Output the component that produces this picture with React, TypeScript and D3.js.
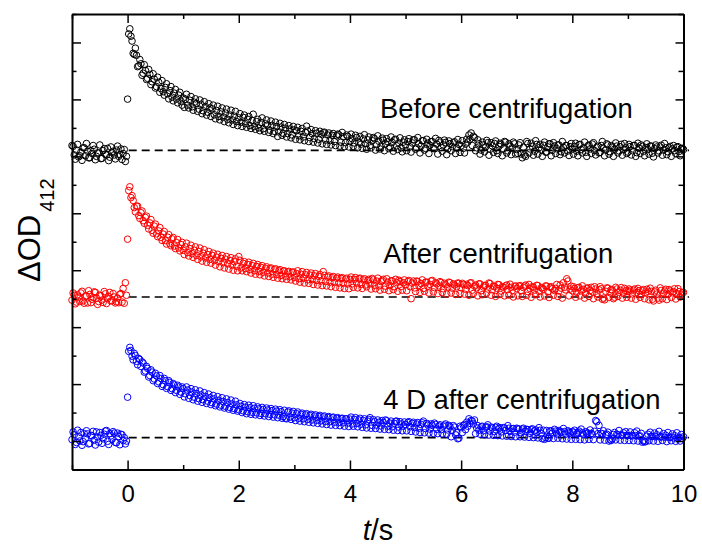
import React, { useEffect, useRef } from 'react';
import * as d3 from 'd3';

// sampling: one point every 0.04 s from t = -1 s, plus the in-between
// samples (t = -0.98 s, -0.94 s, ...) kept in the *Mid arrays
const tStart = -1;
const tStep = 0.04;

// plotted values (arbitrary units, curves stacked as in the figure)
const beforeValues = [
  11.38, 11.05, 11.22, 10.98, 11.15, 11.30, 11.02, 11.18, 10.95, 11.10, 11.25, 11.00, 11.12, 10.92, 11.20, 11.08, 11.28, 10.97, 11.14, 11.05, 11.22, 11.00, 11.26, 11.10, 10.82,
  13.01,
  15.48, 15.05, 14.58, 14.55, 14.18, 14.25, 13.92, 14.02, 13.74, 13.88, 13.62, 13.71, 13.45, 13.60, 13.38, 13.27, 13.42, 13.20, 13.31, 13.08, 13.22, 13.01, 13.15, 12.94, 13.05,
  13.01, 12.80, 12.97, 12.74, 12.90, 12.86, 12.66, 12.83, 12.60, 12.75, 12.55, 12.70, 12.67, 12.46, 12.61, 12.40, 12.56, 12.38, 12.52, 12.30, 12.45, 12.28, 12.41, 12.22, 12.35,
  12.20, 12.37, 12.15, 12.30, 12.08, 12.26, 12.05, 12.22, 12.00, 12.19, 11.97, 12.14, 12.10, 11.92, 12.09, 11.88, 12.05, 11.86, 12.03, 11.81, 11.99, 11.80, 11.96, 11.75, 11.93,
  11.90, 11.72, 11.88, 11.68, 11.84, 11.89, 11.66, 11.80, 11.62, 11.81, 11.60, 11.78, 11.83, 11.57, 11.75, 11.55, 11.74, 11.52, 11.72, 11.76, 11.50, 11.69, 11.48, 11.70, 11.52,
  11.62, 11.47, 11.66, 11.50, 11.43, 11.61, 11.45, 11.58, 11.38, 11.55, 11.62, 11.41, 11.53, 11.36, 11.57, 11.44, 11.51, 11.33, 11.49, 11.58, 11.37, 11.47, 11.30, 11.50, 11.40,
  11.52, 11.33, 11.47, 11.58, 11.30, 11.44, 11.36, 11.55, 11.28, 11.46, 11.39, 11.52, 11.27, 11.43, 11.56, 11.31, 11.40, 11.49, 11.26, 11.45, 11.34, 11.51, 11.29, 11.42, 11.37,
  11.28, 11.43, 11.50, 11.60, 11.38, 11.66, 11.30, 11.44, 11.22, 11.40, 11.33, 11.48, 11.25, 11.37, 11.45, 11.20, 11.35, 11.42, 11.27, 11.50, 11.19, 11.36, 11.30, 11.44, 11.24,
  11.40, 11.08, 11.32, 11.00, 11.45, 11.26, 11.35, 11.18, 11.42, 11.30, 11.22, 11.39, 11.15, 11.33, 11.44, 11.21, 11.36, 11.27, 11.40, 11.16, 11.31, 11.38, 11.19, 11.34, 11.25,
  11.35, 11.18, 11.41, 11.24, 11.30, 11.14, 11.37, 11.26, 11.43, 11.20, 11.32, 11.12, 11.38, 11.28, 11.22, 11.40, 11.16, 11.33, 11.25, 11.36, 11.19, 11.42, 11.23, 11.30, 11.15,
  11.34, 11.20, 11.38, 11.13, 11.29, 11.40, 11.18, 11.31, 11.24, 11.36, 11.11, 11.27, 11.33, 11.19, 11.39, 11.22, 11.30, 11.16, 11.35, 11.26, 11.20, 11.32, 11.17, 11.28, 11.24,
];
const beforeValuesMid = [
  11.35, 10.90, 11.42, 11.02, 10.86, 11.30, 11.45, 10.95, 11.20, 11.38, 10.88, 11.12, 11.40, 10.93, 11.27, 11.05, 10.85, 11.33, 11.18, 10.91, 11.36, 11.06, 10.89, 11.24, 11.00,
  15.30, 15.22, 14.62, 14.80, 14.15, 14.40, 13.85, 14.22, 13.70, 14.05, 13.52, 13.90, 13.40, 13.78, 13.25, 13.66, 13.15, 13.55, 13.02, 13.45, 12.95, 13.35, 12.88, 13.25, 12.80,
  12.72, 13.18, 12.70, 13.10, 12.62, 13.02, 12.58, 12.98, 12.50, 12.92, 12.45, 12.85, 12.40, 12.80, 12.32, 12.76, 12.28, 12.70, 12.22, 12.66, 12.18, 12.62, 12.12, 12.58, 12.08,
  12.50, 12.05, 12.45, 12.02, 12.40, 11.98, 12.48, 11.95, 12.30, 11.90, 12.35, 11.88, 12.28, 11.84, 12.24, 11.80, 12.20, 11.70, 12.16, 11.74, 12.12, 11.68, 12.08, 11.65, 12.05,
  11.60, 12.02, 11.58, 11.98, 11.55, 12.06, 11.52, 11.94, 11.50, 11.90, 11.47, 11.88, 11.44, 11.85, 11.42, 11.82, 11.40, 11.80, 11.38, 11.78, 11.36, 11.84, 11.34, 11.75, 11.33,
  11.78, 11.35, 11.74, 11.30, 11.70, 11.28, 11.76, 11.25, 11.68, 11.30, 11.66, 11.22, 11.72, 11.26, 11.64, 11.20, 11.62, 11.27, 11.68, 11.18, 11.60, 11.24, 11.65, 11.16, 11.58,
  11.20, 11.62, 11.15, 11.58, 11.25, 11.66, 11.12, 11.55, 11.22, 11.60, 11.10, 11.52, 11.28, 11.63, 11.08, 11.50, 11.18, 11.57, 11.06, 11.54, 11.20, 11.48, 11.10, 11.59, 11.14,
  11.55, 11.12, 11.60, 11.75, 11.82, 11.70, 11.20, 11.58, 11.08, 11.50, 11.16, 11.56, 11.04, 11.48, 11.14, 11.54, 11.10, 11.46, 11.02, 11.52, 11.12, 11.44, 11.06, 11.50, 11.08,
  11.10, 11.48, 10.95, 11.05, 11.52, 11.12, 11.46, 11.04, 11.55, 11.08, 11.42, 11.00, 11.50, 11.15, 11.44, 11.02, 11.48, 11.10, 11.40, 11.06, 11.52, 11.12, 11.38, 11.03, 11.45,
  11.08, 11.46, 11.02, 11.42, 11.12, 11.50, 11.00, 11.40, 11.10, 11.48, 11.05, 11.36, 11.14, 11.52, 11.02, 11.44, 11.08, 11.38, 11.00, 11.47, 11.12, 11.34, 11.04, 11.45, 11.10,
  11.42, 11.05, 11.38, 11.00, 11.46, 11.10, 11.35, 11.02, 11.44, 11.08, 11.36, 10.98, 11.40, 11.12, 11.33, 11.04, 11.45, 11.06, 11.30, 11.00, 11.38, 11.10, 11.34, 11.02, 11.28,
];

const afterValues = [
  5.95, 6.12, 5.88, 6.05, 6.20, 5.92, 6.08, 5.85, 6.15, 5.98, 6.24, 6.02, 5.90, 6.10, 5.87, 6.17, 6.00, 6.22, 5.93, 6.06, 5.89, 5.86, 6.18, 6.36, 6.56,
  8.09,
  9.93, 9.62, 9.20, 9.25, 8.92, 9.02, 8.74, 8.85, 8.58, 8.66, 8.40, 8.55, 8.28, 8.38, 8.15, 8.27, 8.04, 8.16, 7.93, 8.10, 7.85, 7.97, 7.78, 7.90, 7.70,
  7.82, 7.62, 7.76, 7.58, 7.70, 7.52, 7.66, 7.47, 7.60, 7.43, 7.55, 7.38, 7.52, 7.34, 7.46, 7.30, 7.42, 7.26, 7.39, 7.22, 7.34, 7.18, 7.30, 7.14, 7.48,
  7.08, 7.24, 7.06, 7.20, 7.02, 7.16, 6.98, 7.13, 6.96, 7.10, 6.93, 7.07, 6.90, 7.05, 6.86, 7.02, 6.85, 6.98, 6.82, 6.97, 6.79, 6.94, 6.77, 6.92, 6.75,
  6.88, 6.70, 6.86, 6.72, 6.84, 6.66, 6.83, 6.67, 6.80, 6.64, 6.78, 6.62, 6.95, 6.60, 6.76, 6.58, 6.74, 6.57, 6.72, 6.55, 6.71, 6.54, 6.69, 6.52, 6.68,
  6.52, 6.68, 6.55, 6.70, 6.50, 6.66, 6.48, 6.64, 6.52, 6.71, 6.47, 6.62, 6.45, 6.60, 6.68, 6.44, 6.58, 6.46, 6.63, 6.42, 6.57, 6.65, 6.43, 6.56, 6.49,
  6.60, 6.42, 6.55, 6.38, 6.62, 6.47, 6.53, 6.36, 6.58, 6.44, 6.50, 6.64, 6.39, 6.52, 6.45, 6.57, 6.35, 6.49, 6.41, 6.56, 6.37, 6.48, 6.42, 6.54, 6.38,
  6.50, 6.33, 6.46, 6.55, 6.30, 6.44, 6.38, 6.52, 6.28, 6.41, 6.47, 6.34, 6.53, 6.31, 6.43, 6.37, 6.49, 6.27, 6.40, 6.45, 6.32, 6.51, 6.29, 6.42, 6.36,
  6.44, 6.28, 6.39, 6.48, 6.25, 6.36, 6.42, 6.30, 6.47, 6.26, 6.38, 6.33, 6.45, 6.24, 6.40, 6.35, 6.29, 6.50, 6.27, 6.37, 6.56, 6.31, 6.62, 6.34, 6.28,
  6.36, 6.22, 6.40, 6.27, 6.33, 6.20, 6.38, 6.29, 6.24, 6.42, 6.18, 6.31, 6.35, 6.02, 6.26, 6.37, 6.21, 6.30, 6.05, 6.34, 6.23, 6.39, 6.19, 6.28, 6.25,
  6.30, 6.17, 6.34, 6.22, 6.28, 6.14, 6.32, 6.20, 6.26, 6.37, 5.98, 6.24, 6.16, 5.95, 6.29, 6.19, 6.33, 6.15, 6.27, 6.21, 6.35, 6.18, 6.25, 6.13, 6.22,
];
const afterValuesMid = [
  6.20, 5.82, 6.14, 5.90, 6.26, 5.84, 6.10, 6.28, 5.86, 6.04, 6.22, 5.80, 6.12, 5.95, 6.25, 5.83, 6.08, 5.92, 6.18, 5.85, 6.02, 6.15, 5.88, 5.84, 6.12,
  9.80, 9.55, 9.45, 9.05, 9.25, 8.82, 9.08, 8.65, 8.90, 8.45, 8.78, 8.30, 8.62, 8.18, 8.50, 8.05, 8.36, 7.92, 8.25, 7.86, 8.15, 7.76, 8.08, 7.68, 7.98,
  7.55, 7.95, 7.50, 7.88, 7.45, 7.82, 7.38, 7.78, 7.32, 7.72, 7.28, 7.66, 7.25, 7.60, 7.18, 7.56, 7.12, 7.52, 7.08, 7.48, 7.04, 7.44, 7.00, 7.40, 6.98,
  7.35, 6.98, 7.30, 6.95, 7.28, 6.90, 7.24, 6.86, 7.20, 6.84, 7.16, 6.80, 7.12, 6.78, 7.08, 6.75, 7.05, 6.72, 7.02, 6.70, 6.98, 6.68, 6.96, 6.66, 6.94,
  6.62, 6.98, 6.58, 6.95, 6.55, 6.92, 6.54, 6.90, 6.50, 6.88, 6.48, 6.85, 6.46, 6.82, 6.45, 6.80, 6.42, 6.78, 6.40, 6.76, 6.38, 6.74, 6.36, 6.72, 6.35,
  6.76, 6.40, 6.74, 6.38, 6.72, 6.36, 6.70, 6.42, 6.68, 6.34, 6.66, 6.35, 6.72, 6.30, 6.64, 6.33, 6.70, 6.28, 6.62, 6.32, 6.68, 6.26, 6.60, 6.30, 6.66,
  6.28, 6.64, 6.00, 6.62, 6.25, 6.60, 6.22, 6.66, 6.26, 6.58, 6.20, 6.62, 6.24, 6.56, 6.18, 6.60, 6.22, 6.54, 6.16, 6.58, 6.20, 6.52, 6.15, 6.55, 6.18,
  6.54, 6.16, 6.50, 6.12, 6.56, 6.18, 6.48, 6.10, 6.52, 6.14, 6.46, 6.20, 6.55, 6.12, 6.44, 6.08, 6.50, 6.15, 6.42, 6.10, 6.48, 6.13, 6.40, 6.06, 6.45,
  6.10, 6.46, 6.08, 6.44, 6.12, 6.50, 6.05, 6.40, 6.14, 6.46, 6.06, 6.38, 6.10, 6.44, 6.04, 6.42, 6.12, 6.36, 6.08, 6.48, 6.02, 6.40, 6.70, 6.10, 6.44,
  6.42, 6.05, 6.38, 6.10, 6.45, 6.02, 6.36, 6.08, 6.40, 6.00, 6.34, 6.06, 6.42, 5.98, 5.96, 6.38, 6.04, 6.32, 6.00, 6.40, 6.08, 6.30, 6.02, 6.36, 6.05,
  6.34, 6.02, 6.30, 5.98, 6.36, 6.05, 6.28, 6.00, 6.33, 5.96, 6.26, 5.92, 6.30, 6.02, 6.38, 6.00, 6.27, 5.97, 6.32, 6.04, 6.25, 5.99, 6.35, 6.06, 6.22,
];

const after4DValues = [
  1.05, 1.22, 0.95, 1.15, 1.30, 0.98, 1.10, 1.25, 0.92, 1.18, 1.03, 1.32, 0.96, 1.20, 1.08, 1.35, 0.99, 1.26, 1.06, 1.28, 0.94, 1.16, 1.24, 1.02, 0.90,
  2.54,
  4.29, 3.98, 4.08, 3.80, 3.90, 3.62, 3.74, 3.46, 3.55, 3.30, 3.42, 3.18, 3.29, 3.08, 3.20, 2.98, 3.12, 2.91, 3.06, 2.84, 2.97, 2.78, 2.90, 2.72, 2.84,
  2.66, 2.79, 2.60, 2.72, 2.54, 2.67, 2.49, 2.62, 2.45, 2.57, 2.40, 2.52, 2.35, 2.48, 2.30, 2.43, 2.26, 2.39, 2.22, 2.35, 2.18, 2.30, 2.14, 2.27, 2.10,
  2.22, 2.06, 2.19, 2.03, 2.17, 2.01, 2.15, 1.99, 2.13, 1.97, 2.11, 1.96, 2.09, 1.94, 2.07, 1.92, 2.05, 1.91, 2.03, 1.86, 1.80, 2.02, 1.84, 1.98, 1.82,
  1.96, 1.80, 1.94, 1.78, 1.92, 1.76, 1.90, 1.74, 1.88, 1.73, 1.86, 1.71, 1.85, 1.69, 1.83, 1.68, 1.82, 1.66, 1.80, 1.65, 1.79, 1.64, 1.78, 1.63, 1.77,
  1.60, 1.76, 1.62, 1.74, 1.59, 1.72, 1.57, 1.70, 1.82, 1.55, 1.68, 1.56, 1.66, 1.53, 1.65, 1.74, 1.52, 1.63, 1.50, 1.62, 1.70, 1.49, 1.60, 1.52, 1.58,
  1.65, 1.50, 1.62, 1.47, 1.60, 1.45, 1.58, 1.70, 1.44, 1.56, 1.42, 1.55, 1.63, 1.41, 1.53, 1.40, 1.52, 1.60, 1.39, 1.50, 1.38, 1.49, 1.30, 1.10, 1.47,
  1.55, 1.40, 1.52, 1.62, 1.70, 1.74, 1.46, 1.38, 1.50, 1.36, 1.48, 1.57, 1.35, 1.46, 1.33, 1.52, 1.44, 1.32, 1.47, 1.37, 1.54, 1.34, 1.43, 1.31, 1.45,
  1.42, 1.29, 1.45, 1.34, 1.40, 1.27, 1.43, 1.36, 1.30, 1.47, 1.26, 1.38, 1.12, 1.10, 1.35, 1.28, 1.41, 1.25, 1.37, 1.31, 1.44, 1.24, 1.36, 1.29, 1.33,
  1.38, 1.25, 1.35, 1.42, 1.23, 1.33, 1.28, 1.39, 1.22, 1.34, 1.68, 1.55, 1.27, 1.36, 1.21, 1.31, 1.05, 1.08, 1.30, 1.24, 1.37, 1.20, 1.29, 1.33, 1.19,
  1.32, 1.18, 1.29, 1.35, 1.17, 1.27, 1.01, 0.98, 1.24, 1.31, 1.16, 1.28, 1.22, 1.34, 1.15, 1.26, 1.20, 1.30, 1.14, 1.25, 1.19, 1.29, 1.13, 1.23, 1.15,
];
const after4DValuesMid = [
  1.32, 0.88, 1.38, 1.00, 0.85, 1.26, 1.36, 0.90, 1.20, 1.34, 0.86, 1.14, 1.30, 0.92, 1.24, 1.37, 0.88, 1.18, 1.33, 0.95, 1.28, 0.87, 1.22, 1.12, 1.00,
  4.15, 4.18, 3.85, 4.00, 3.68, 3.86, 3.78, 3.42, 3.62, 3.25, 3.50, 3.12, 3.38, 3.02, 3.30, 2.92, 3.20, 2.85, 3.12, 2.78, 3.02, 2.70, 2.96, 2.64, 2.90,
  2.55, 2.90, 2.50, 2.84, 2.45, 2.80, 2.40, 2.76, 2.36, 2.70, 2.32, 2.65, 2.28, 2.60, 2.24, 2.56, 2.20, 2.52, 2.16, 2.48, 2.12, 2.44, 2.08, 2.40, 2.05,
  2.32, 2.00, 2.28, 1.96, 2.26, 1.94, 2.24, 1.92, 2.20, 1.90, 2.18, 1.88, 2.16, 1.86, 2.14, 1.84, 2.12, 1.82, 2.10, 1.80, 2.08, 1.78, 2.06, 1.76, 2.04,
  1.72, 2.02, 1.70, 1.98, 1.68, 1.96, 1.66, 1.94, 1.64, 1.92, 1.62, 1.90, 1.60, 1.88, 1.58, 1.86, 1.56, 1.84, 1.55, 1.82, 1.54, 1.80, 1.52, 1.78, 1.51,
  1.84, 1.52, 1.82, 1.50, 1.80, 1.48, 1.78, 1.46, 1.76, 1.45, 1.75, 1.44, 1.74, 1.42, 1.72, 1.41, 1.71, 1.40, 1.70, 1.38, 1.69, 1.37, 1.68, 1.36, 1.67,
  1.36, 1.68, 1.34, 1.66, 1.32, 1.65, 1.30, 1.64, 1.29, 1.62, 1.28, 1.60, 1.27, 1.58, 1.26, 1.57, 1.25, 1.56, 1.24, 1.55, 1.15, 1.54, 1.22, 1.08, 1.52,
  1.30, 1.58, 1.66, 1.78, 1.72, 1.60, 1.26, 1.54, 1.24, 1.52, 1.22, 1.50, 1.21, 1.49, 1.20, 1.48, 1.19, 1.47, 1.18, 1.46, 1.17, 1.45, 1.16, 1.44, 1.15,
  1.43, 1.15, 1.42, 1.14, 1.41, 1.13, 1.40, 1.12, 1.39, 1.11, 1.38, 1.08, 1.06, 1.37, 1.10, 1.36, 1.09, 1.35, 1.10, 1.34, 1.08, 1.33, 1.07, 1.32, 1.06,
  1.31, 1.06, 1.30, 1.05, 1.29, 1.04, 1.28, 1.06, 1.27, 1.05, 1.72, 1.26, 1.04, 1.25, 1.03, 1.24, 1.00, 1.02, 1.23, 1.04, 1.22, 1.03, 1.21, 1.02, 1.20,
  1.02, 1.20, 1.01, 1.19, 1.00, 1.18, 0.96, 0.97, 1.17, 1.01, 1.16, 1.00, 1.15, 0.99, 1.14, 1.02, 1.13, 0.98, 1.12, 1.01, 1.11, 0.99, 1.10, 1.00, 1.09,
];

// pre-trigger baselines (dashed lines)
const baselines = [11.21, 6.06, 1.12];

const series = [
  { name: 'Before centrifugation', values: beforeValues, mid: beforeValuesMid, color: '#000000' },
  { name: 'After centrifugation', values: afterValues, mid: afterValuesMid, color: '#ff0000' },
  { name: '4 D after centrifugation', values: after4DValues, mid: after4DValuesMid, color: '#0000ff' },
];

const labelAnchors = [
  { t: 4.54, v: 12.34 },
  { t: 4.6, v: 7.24 },
  { t: 4.6, v: 2.12 },
];

const xMajor = [0, 2, 4, 6, 8, 10];
const xMinor = [-1, 1, 3, 5, 7, 9];
const yMajor = [1, 3, 5, 7, 9, 11, 13, 15];
const yMinor = [0, 2, 4, 6, 8, 10, 12, 14, 16];

const W = 702;
const H = 545;
const font = '"Liberation Sans", Arial, sans-serif';

export default function App() {
  const ref = useRef<SVGSVGElement>(null);

  useEffect(() => {
    const svg = d3.select(ref.current);
    svg.selectAll('*').remove();

    const x = d3.scaleLinear().domain([-1, 10]).range([72, 683.5]);
    const y = d3.scaleLinear().domain([0, 16]).range([469.5, 14]);
    const [x0, x1] = x.range();
    const [y0, y1] = y.range();

    // dashed baselines
    svg.selectAll('line.base')
      .data(baselines)
      .enter()
      .append('line')
      .attr('x1', x(0.02))
      .attr('x2', x(10.1))
      .attr('y1', d => y(d))
      .attr('y2', d => y(d))
      .attr('stroke', '#000')
      .attr('stroke-width', 1.6)
      .attr('stroke-dasharray', '8,5');

    // data points
    series.forEach(s => {
      const pts = [
        ...s.values.map((v, i) => [tStart + i * tStep, v]),
        ...s.mid.map((v, i) => [tStart + tStep / 2 + i * tStep, v]),
      ];
      svg.append('g')
        .selectAll('circle')
        .data(pts)
        .enter()
        .append('circle')
        .attr('cx', d => x(d[0]))
        .attr('cy', d => y(d[1]))
        .attr('r', 3.3)
        .attr('fill', 'none')
        .attr('stroke', s.color)
        .attr('stroke-width', 1);
    });

    // axes, ticks pointing inwards on all four sides
    const styleAxis = (g: any) => {
      g.select('.domain').attr('stroke-width', 2);
      g.selectAll('.tick line').attr('stroke-width', 1.5);
    };

    const bottom = svg.append('g').attr('transform', `translate(0,${y0})`);
    bottom.call(d3.axisBottom(x).tickValues(xMajor).tickSize(-9).tickSizeOuter(0).tickPadding(15.5).tickFormat(d3.format('d')));
    bottom.append('g').call(d3.axisBottom(x).tickValues(xMinor).tickSize(-4.5).tickFormat(() => ''))
      .call(g => g.select('.domain').remove());
    bottom.selectAll('text').attr('font-family', font).attr('font-size', 24).attr('fill', '#000');

    const top = svg.append('g').attr('transform', `translate(0,${y1})`);
    top.call(d3.axisTop(x).tickValues(xMajor).tickSize(-9).tickSizeOuter(0).tickFormat(() => ''));
    top.append('g').call(d3.axisTop(x).tickValues(xMinor).tickSize(-5).tickFormat(() => ''))
      .call(g => g.select('.domain').remove());

    const left = svg.append('g').attr('transform', `translate(${x0},0)`);
    left.call(d3.axisLeft(y).tickValues(yMajor).tickSize(-9).tickSizeOuter(0).tickFormat(() => ''));
    left.append('g').call(d3.axisLeft(y).tickValues(yMinor).tickSize(-4.5).tickFormat(() => ''))
      .call(g => g.select('.domain').remove());

    const right = svg.append('g').attr('transform', `translate(${x1},0)`);
    right.call(d3.axisRight(y).tickValues(yMajor).tickSize(-8).tickSizeOuter(0).tickFormat(() => ''));
    right.append('g').call(d3.axisRight(y).tickValues(yMinor).tickSize(-5).tickFormat(() => ''))
      .call(g => g.select('.domain').remove());

    [bottom, top, left, right].forEach(styleAxis);

    // curve labels
    svg.selectAll('text.lbl')
      .data(series)
      .enter()
      .append('text')
      .attr('x', (d, i) => x(labelAnchors[i].t))
      .attr('y', (d, i) => y(labelAnchors[i].v))
      .attr('font-family', font)
      .attr('font-size', 27.4)
      .attr('fill', '#000')
      .text(d => d.name);

    // x title
    const xt = svg.append('text')
      .attr('x', 378)
      .attr('y', 540)
      .attr('text-anchor', 'middle')
      .attr('font-family', font)
      .attr('font-size', 29);
    xt.append('tspan').attr('font-style', 'italic').text('t');
    xt.append('tspan').text('/s');

    // y title
    const yt = svg.append('text')
      .attr('transform', 'translate(40,282) rotate(-90)')
      .attr('font-family', font)
      .attr('font-size', 31);
    yt.append('tspan').text('ΔOD');
    yt.append('tspan').attr('font-size', 20).attr('dy', 14).attr('dx', 3).text('412');
  }, []);

  return (
    <svg
      ref={ref}
      width={W}
      height={H}
      style={{ position: 'absolute', left: 0, top: 0, background: '#fff' }}
    />
  );
}
